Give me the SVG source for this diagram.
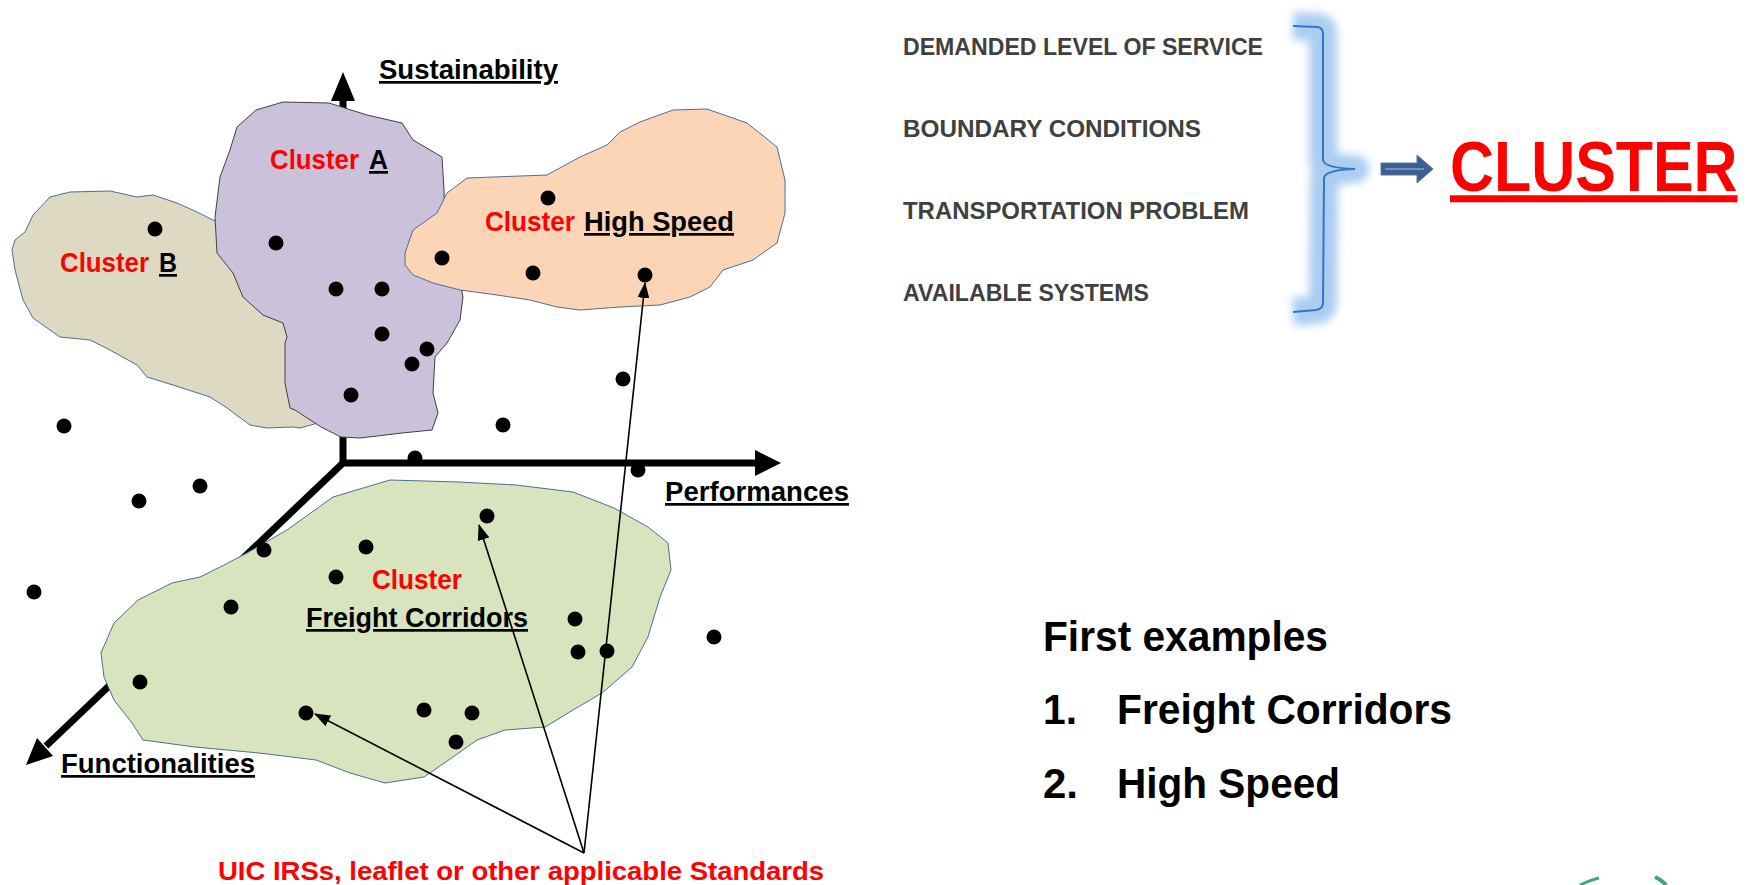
<svg xmlns="http://www.w3.org/2000/svg" width="1748" height="885" viewBox="0 0 1748 885">
<style>
text{font-family:"Liberation Sans",Arial,sans-serif;font-weight:bold}
.lab{font-size:27px;fill:#000}
.red{fill:#FF0000}
.ul{text-decoration:underline}
.list{font-size:24px;fill:#404040}
.ex{font-size:43px;fill:#000}
.dot{fill:#000}
.axis{fill:none;stroke:#000;stroke-width:7}
.conn{fill:none;stroke:#000;stroke-width:1.6}
</style>
<defs>
<marker id="ah" viewBox="0 0 16 12" refX="15" refY="6" markerWidth="16" markerHeight="12" markerUnits="userSpaceOnUse" orient="auto">
<path d="M0,0 L16,6 L0,12 Z" fill="#000"/>
</marker>
<marker id="axh" viewBox="0 0 26 26" refX="2" refY="13" markerWidth="26" markerHeight="26" markerUnits="userSpaceOnUse" orient="auto">
<path d="M0,0 L26,13 L0,26 Z" fill="#000"/>
</marker>
<filter id="glow" x="-100%" y="-20%" width="300%" height="140%">
<feGaussianBlur stdDeviation="4.5"/>
</filter>
</defs>

<g id="axes">
<path class="axis" d="M343,100 V463 H757" marker-end="url(#axh)"/>
<polygon points="331,101 343,72 355,101" fill="#000"/>
<path class="axis" d="M343,463 L46,746"/>
<polygon points="53,756 26,765 37,738" fill="#000"/>
</g>

<g id="cluster-b">
<path d="M50,197 L70,192 L110,191 L137,197 L153,195 L177,203 L197,212 L213,220 L240,230 L300,300 L318,423 L300,428 L293,427 L267,428 L250,425 L227,408 L210,397 L173,385 L147,377 L137,365 L110,350 L90,340 L60,337 L33,318 L23,300 L15,270 L12,250 L15,240 L25,232 L33,215 Z" fill="#DDD9C3" stroke="#4F6D93" stroke-width="1" stroke-linejoin="round"/>
</g>
<g id="cluster-a">
<path d="M283,102 L329,103 L367,115 L402,123 L413,140 L442,157 L444,190 L445,230 L455,260 L463,297 L460,320 L447,343 L435,357 L433,393 L438,413 L432,430 L402,433 L360,438 L341,437 L321,427 L295,410 L290,408 L285,383 L285,343 L287,337 L283,323 L263,315 L243,297 L233,273 L217,253 L215,217 L220,177 L230,150 L237,127 L256,110 Z" fill="#CCC1DA" stroke="#404040" stroke-width="1" stroke-linejoin="round"/>
</g>
<g id="cluster-high-speed">
<path d="M405,253 L413,230 L423,223 L437,213 L447,193 L467,178 L547,175 L580,157 L607,145 L620,132 L640,122 L673,110 L707,109 L747,123 L777,147 L785,180 L785,213 L777,243 L753,260 L723,270 L710,287 L690,297 L660,305 L620,307 L580,310 L557,307 L530,300 L497,295 L460,290 L433,283 L413,275 L405,265 Z" fill="#FBD5B5" stroke="#4F6D93" stroke-width="1" stroke-linejoin="round"/>
</g>
<g id="cluster-freight">
<path d="M224,565 L247,553 L287,530 L333,497 L390,480 L459,482 L516,485 L573,492 L614,508 L648,527 L668,543 L671,570 L660,597 L648,637 L632,667 L602,693 L573,710 L545,727 L505,730 L477,740 L453,757 L424,777 L385,783 L350,773 L316,760 L259,753 L195,747 L143,740 L132,723 L114,700 L104,677 L101,653 L114,623 L138,600 L172,583 L200,577 Z" fill="#D7E4BD" stroke="#4F6D93" stroke-width="1" stroke-linejoin="round"/>
</g>

<g id="points">
<circle class="dot" cx="155" cy="229" r="7.5"/>
<circle class="dot" cx="276" cy="243" r="7.5"/>
<circle class="dot" cx="336" cy="289" r="7.5"/>
<circle class="dot" cx="382" cy="289" r="7.5"/>
<circle class="dot" cx="382" cy="334" r="7.5"/>
<circle class="dot" cx="427" cy="349" r="7.5"/>
<circle class="dot" cx="412" cy="364" r="7.5"/>
<circle class="dot" cx="351" cy="395" r="7.5"/>
<circle class="dot" cx="548" cy="198" r="7.5"/>
<circle class="dot" cx="442" cy="258" r="7.5"/>
<circle class="dot" cx="533" cy="273" r="7.5"/>
<circle class="dot" cx="645" cy="275" r="7.5"/>
<circle class="dot" cx="64" cy="426" r="7.5"/>
<circle class="dot" cx="503" cy="425" r="7.5"/>
<circle class="dot" cx="623" cy="379" r="7.5"/>
<circle class="dot" cx="415" cy="458" r="7.5"/>
<circle class="dot" cx="638" cy="470" r="7.5"/>
<circle class="dot" cx="139" cy="501" r="7.5"/>
<circle class="dot" cx="200" cy="486" r="7.5"/>
<circle class="dot" cx="34" cy="592" r="7.5"/>
<circle class="dot" cx="714" cy="637" r="7.5"/>
<circle class="dot" cx="487" cy="516" r="7.5"/>
<circle class="dot" cx="366" cy="547" r="7.5"/>
<circle class="dot" cx="264" cy="550" r="7.5"/>
<circle class="dot" cx="336" cy="577" r="7.5"/>
<circle class="dot" cx="231" cy="607" r="7.5"/>
<circle class="dot" cx="575" cy="619" r="7.5"/>
<circle class="dot" cx="578" cy="652" r="7.5"/>
<circle class="dot" cx="607" cy="651" r="7.5"/>
<circle class="dot" cx="140" cy="682" r="7.5"/>
<circle class="dot" cx="306" cy="713" r="7.5"/>
<circle class="dot" cx="424" cy="710" r="7.5"/>
<circle class="dot" cx="472" cy="713" r="7.5"/>
<circle class="dot" cx="456" cy="742" r="7.5"/>
</g>

<g id="connectors">
<line class="conn" x1="584" y1="853" x2="315" y2="714" marker-end="url(#ah)"/>
<line class="conn" x1="584" y1="853" x2="479" y2="525" marker-end="url(#ah)"/>
<line class="conn" x1="584" y1="853" x2="645" y2="283" marker-end="url(#ah)"/>
</g>

<g id="labels">
<text class="lab ul" x="379" y="79" textLength="179" lengthAdjust="spacingAndGlyphs">Sustainability</text>
<text class="lab ul" x="665" y="501" textLength="184" lengthAdjust="spacingAndGlyphs">Performances</text>
<text class="lab ul" x="61" y="773" textLength="194" lengthAdjust="spacingAndGlyphs">Functionalities</text>
<text class="lab red" x="270" y="169" textLength="89" lengthAdjust="spacingAndGlyphs">Cluster</text>
<text class="lab ul" x="369" y="169" textLength="19" lengthAdjust="spacingAndGlyphs">A</text>
<text class="lab red" x="60" y="272" textLength="89" lengthAdjust="spacingAndGlyphs">Cluster</text>
<text class="lab ul" x="159" y="272" textLength="18" lengthAdjust="spacingAndGlyphs">B</text>
<text class="lab red" x="485" y="231" textLength="90" lengthAdjust="spacingAndGlyphs">Cluster</text>
<text class="lab ul" x="584" y="231" textLength="150" lengthAdjust="spacingAndGlyphs">High Speed</text>
<text class="lab red" x="372" y="589" textLength="90" lengthAdjust="spacingAndGlyphs">Cluster</text>
<text class="lab ul" x="306" y="627" textLength="222" lengthAdjust="spacingAndGlyphs">Freight Corridors</text>
<text class="lab red" style="font-size:26px" x="218" y="880" textLength="606" lengthAdjust="spacingAndGlyphs">UIC IRSs, leaflet or other applicable Standards</text>
</g>

<g id="criteria">
<text class="list" x="903" y="55" textLength="360" lengthAdjust="spacingAndGlyphs">DEMANDED LEVEL OF SERVICE</text>
<text class="list" x="903" y="137" textLength="298" lengthAdjust="spacingAndGlyphs">BOUNDARY CONDITIONS</text>
<text class="list" x="903" y="219" textLength="346" lengthAdjust="spacingAndGlyphs">TRANSPORTATION PROBLEM</text>
<text class="list" x="903" y="301" textLength="246" lengthAdjust="spacingAndGlyphs">AVAILABLE SYSTEMS</text>
</g>

<g id="brace">
<path d="M1293,26 L1318,27 Q1323,28 1323,34 L1323,160 Q1324,168 1355,169 Q1325,170 1324,178 L1323,303 Q1323,309 1316,310 L1293,312" fill="none" stroke="#9CC4EE" stroke-width="28" stroke-opacity="0.85" stroke-linejoin="round" filter="url(#glow)"/>
<path d="M1293,26 L1318,27 Q1323,28 1323,34 L1323,160 Q1324,168 1355,169 Q1325,170 1324,178 L1323,303 Q1323,309 1316,310 L1293,312" fill="none" stroke="#2F78C4" stroke-width="2"/>
</g>

<g id="result-arrow">
<polygon points="1381,163 1417,163 1417,155 1433,169 1417,183 1417,175 1381,175" fill="#3E5F8E" stroke="#5577AA" stroke-width="1"/>
<line x1="1385" y1="169" x2="1424" y2="169" stroke="#7FA3D6" stroke-width="1.5"/>
</g>

<g id="cluster-title">
<text transform="translate(1450,191) scale(0.87,1)" x="0" y="0" style="font-size:70px;fill:#FF0000;text-decoration:underline">CLUSTER</text>
</g>

<g id="examples">
<text class="ex" x="1043" y="651" textLength="285" lengthAdjust="spacingAndGlyphs">First examples</text>
<text class="ex" x="1043" y="724" textLength="34" lengthAdjust="spacingAndGlyphs">1.</text>
<text class="ex" x="1117" y="724" textLength="335" lengthAdjust="spacingAndGlyphs">Freight Corridors</text>
<text class="ex" x="1043" y="798" textLength="35" lengthAdjust="spacingAndGlyphs">2.</text>
<text class="ex" x="1117" y="798" textLength="223" lengthAdjust="spacingAndGlyphs">High Speed</text>
</g>

<g id="corner-mark">
<path d="M1580,885 Q1590,880 1599,878" fill="none" stroke="#3DA77A" stroke-width="3"/>
<path d="M1655,877 Q1662,880 1666,885" fill="none" stroke="#3DA77A" stroke-width="4"/>
</g>
</svg>
